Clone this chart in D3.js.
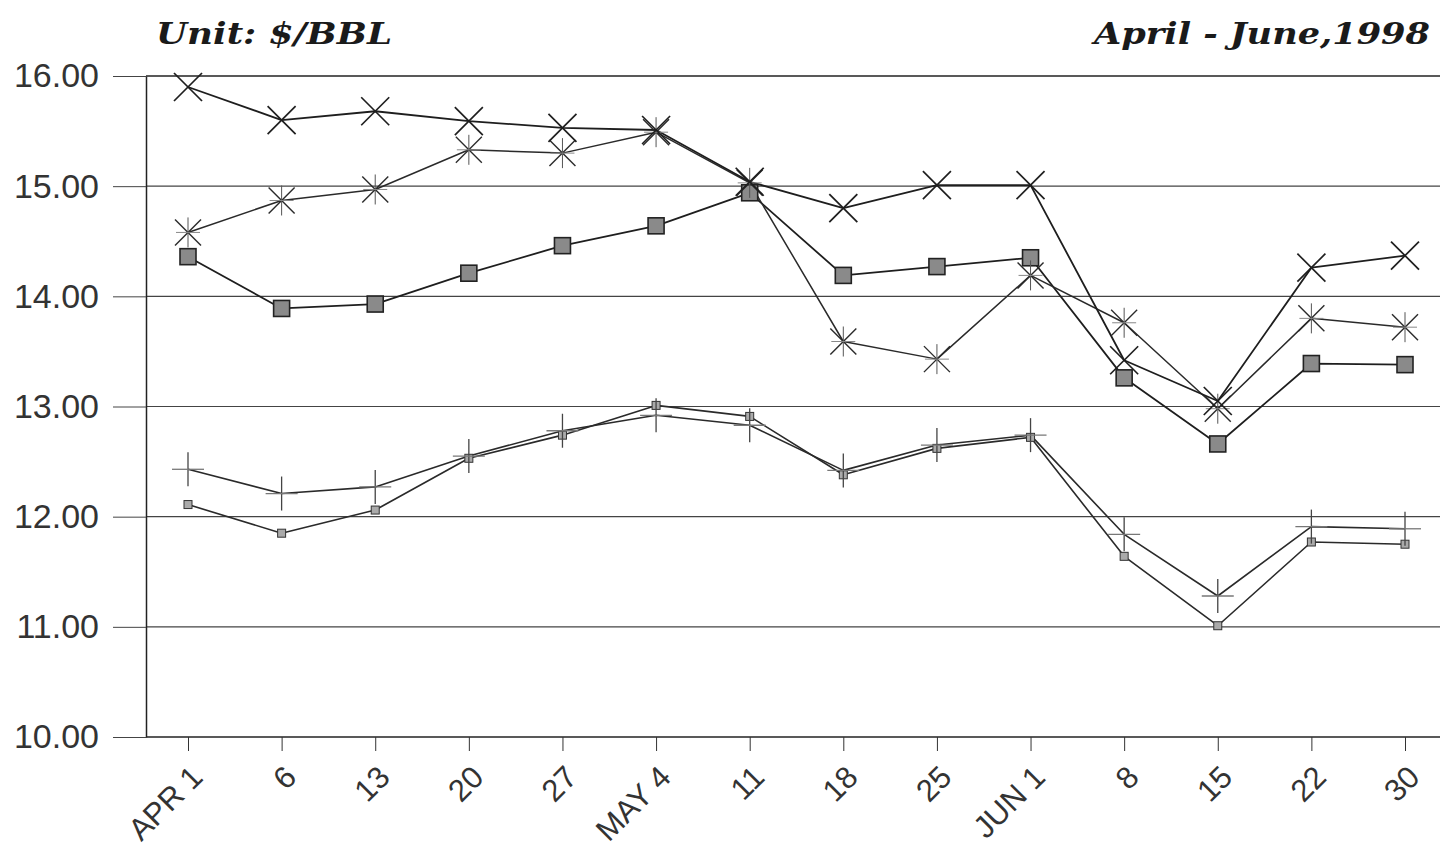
<!DOCTYPE html>
<html>
<head>
<meta charset="utf-8">
<script src="https://cdn.jsdelivr.net/npm/d3@7/dist/d3.min.js"></script>
<style>
  html, body { margin: 0; padding: 0; background: #fff; }
  svg { display: block; }
</style>
</head>
<body>
<svg id="chart" width="1440" height="857"></svg>
<script>
// ---- data ----
const categories = ["APR 1", "6", "13", "20", "27", "MAY 4", "11", "18", "25", "JUN 1", "8", "15", "22", "30"];
const yTicks = [10, 11, 12, 13, 14, 15, 16];
const seriesX =        [15.90, 15.60, 15.68, 15.59, 15.53, 15.51, 15.04, 14.80, 15.01, 15.01, 13.42, 13.05, 14.26, 14.37];
const seriesAsterisk = [14.58, 14.87, 14.97, 15.33, 15.30, 15.49, 15.03, 13.59, 13.43, 14.19, 13.76, 12.98, 13.80, 13.72];
const seriesBigSq =    [14.36, 13.89, 13.93, 14.21, 14.46, 14.64, 14.94, 14.19, 14.27, 14.35, 13.26, 12.66, 13.39, 13.38];
const seriesPlus =     [12.43, 12.21, 12.27, 12.55, 12.78, 12.92, 12.83, 12.42, 12.65, 12.74, 11.84, 11.28, 11.91, 11.89];
const seriesSmallSq =  [12.11, 11.85, 12.06, 12.53, 12.74, 13.01, 12.91, 12.38, 12.62, 12.72, 11.64, 11.01, 11.77, 11.75];
const titleLeft = "Unit: $/BBL";
const titleRight = "April - June,1998";

// ---- chart ----
const svg = d3.select("#chart");
const plotLeft = 146, plotRight = 1440, plotTop = 76, plotBottom = 737;

const x = d3.scalePoint().domain(categories).range([188, 1405]);
const y = d3.scaleLinear().domain([10, 16]).range([plotBottom, plotTop]);

// titles
const titleFont = "'DejaVu Serif', 'Liberation Serif', serif";
svg.append("text").attr("x", 156).attr("y", 44)
  .attr("font-family", titleFont).attr("font-weight", "bold").attr("font-style", "italic")
  .attr("font-size", 30).attr("fill", "#1a1a1a")
  .attr("textLength", 236).attr("lengthAdjust", "spacingAndGlyphs")
  .text(titleLeft);
svg.append("text").attr("x", 1094).attr("y", 44)
  .attr("font-family", titleFont).attr("font-weight", "bold").attr("font-style", "italic")
  .attr("font-size", 30).attr("fill", "#1a1a1a")
  .attr("textLength", 336).attr("lengthAdjust", "spacingAndGlyphs")
  .text(titleRight);

// gridlines
svg.append("g").selectAll("line").data(yTicks).join("line")
  .attr("x1", plotLeft).attr("x2", plotRight)
  .attr("y1", d => y(d)).attr("y2", d => y(d))
  .attr("stroke", d => (d === 16 || d === 10) ? "#222" : "#444")
  .attr("stroke-width", d => (d === 16 || d === 10) ? 1.5 : 1.1);

// left axis
const yAxis = svg.append("g").attr("transform", `translate(${plotLeft},0)`)
  .call(d3.axisLeft(y).tickValues(yTicks).tickFormat(d3.format(".2f"))
    .tickSize(33).tickSizeOuter(0).tickPadding(14));
yAxis.select(".domain").attr("stroke", "#222").attr("stroke-width", 1.5);
yAxis.selectAll(".tick line").attr("stroke", "#444");
yAxis.selectAll(".tick text")
  .attr("font-family", "'Liberation Sans', Arial, sans-serif")
  .attr("font-size", 34).attr("fill", "#333");

// bottom axis
const xAxis = svg.append("g").attr("transform", `translate(0,${plotBottom})`)
  .call(d3.axisBottom(x).tickSize(14).tickSizeOuter(0));
xAxis.select(".domain").remove();
xAxis.selectAll(".tick line").attr("stroke", "#333");
xAxis.selectAll(".tick text")
  .attr("font-family", "'Liberation Sans', Arial, sans-serif")
  .attr("font-size", 31).attr("fill", "#333")
  .attr("text-anchor", "end")
  .attr("y", 0).attr("dy", 0)
  .attr("transform", "translate(16,42) rotate(-45)");

// series lines
const line = d3.line().x((d, i) => x(categories[i])).y(d => y(d));
function drawLine(vals, width, color) {
  svg.append("path").datum(vals).attr("d", line)
    .attr("fill", "none").attr("stroke", color).attr("stroke-width", width)
    .attr("stroke-linejoin", "round");
}
drawLine(seriesSmallSq, 1.6, "#2a2a2a");
drawLine(seriesPlus, 1.6, "#2a2a2a");
drawLine(seriesBigSq, 1.8, "#1e1e1e");
drawLine(seriesAsterisk, 1.5, "#2a2a2a");
drawLine(seriesX, 1.8, "#1e1e1e");

// markers
function pts(vals) { return vals.map((v, i) => ({ cx: x(categories[i]), cy: y(v) })); }

// small squares
svg.append("g").selectAll("rect").data(pts(seriesSmallSq)).join("rect")
  .attr("x", d => d.cx - 4).attr("y", d => d.cy - 4).attr("width", 8).attr("height", 8)
  .attr("fill", "#aaa").attr("stroke", "#333").attr("stroke-width", 1);

// plus
const gPlus = svg.append("g").attr("stroke", "#444").attr("stroke-width", 1.3);
pts(seriesPlus).forEach(d => {
  gPlus.append("line").attr("x1", d.cx).attr("x2", d.cx).attr("y1", d.cy - 17).attr("y2", d.cy + 17);
  gPlus.append("line").attr("x1", d.cx - 16).attr("x2", d.cx + 16).attr("y1", d.cy).attr("y2", d.cy).attr("stroke", "#777");
});

// big squares
svg.append("g").selectAll("rect").data(pts(seriesBigSq)).join("rect")
  .attr("x", d => d.cx - 8).attr("y", d => d.cy - 8).attr("width", 16).attr("height", 16)
  .attr("fill", "#8a8a8a").attr("stroke", "#222").attr("stroke-width", 1.6);

// asterisks
const gAst = svg.append("g").attr("stroke", "#2a2a2a").attr("stroke-width", 1.4);
pts(seriesAsterisk).forEach(d => {
  const a = 13;
  gAst.append("line").attr("x1", d.cx - a).attr("x2", d.cx + a).attr("y1", d.cy - a).attr("y2", d.cy + a);
  gAst.append("line").attr("x1", d.cx - a).attr("x2", d.cx + a).attr("y1", d.cy + a).attr("y2", d.cy - a);
  gAst.append("line").attr("x1", d.cx).attr("x2", d.cx).attr("y1", d.cy - 15).attr("y2", d.cy + 15).attr("stroke", "#555").attr("stroke-width", 1);
  gAst.append("line").attr("x1", d.cx - 12).attr("x2", d.cx + 12).attr("y1", d.cy).attr("y2", d.cy).attr("stroke", "#888").attr("stroke-width", 1);
});

// X markers
const gX = svg.append("g").attr("stroke", "#1e1e1e").attr("stroke-width", 1.7);
pts(seriesX).forEach(d => {
  const a = 14;
  gX.append("line").attr("x1", d.cx - a).attr("x2", d.cx + a).attr("y1", d.cy - a).attr("y2", d.cy + a);
  gX.append("line").attr("x1", d.cx - a).attr("x2", d.cx + a).attr("y1", d.cy + a).attr("y2", d.cy - a);
});
</script>
</body>
</html>
